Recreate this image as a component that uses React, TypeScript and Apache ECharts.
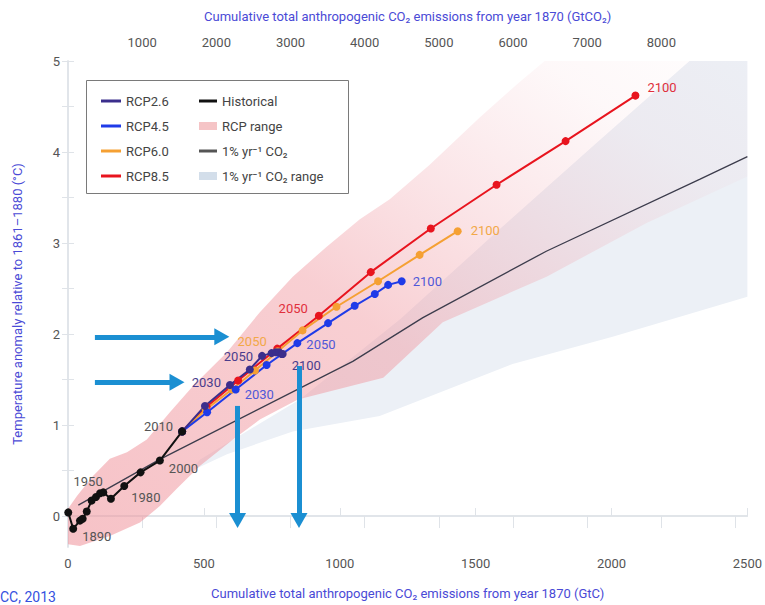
import React, { useEffect, useRef } from 'react';
import * as echarts from 'echarts';

// ---------- data ----------
const historicalYears = [1880, 1890, 1900, 1910, 1920, 1930, 1940, 1950, 1960, 1970, 1980, 1990, 2000, 2010];
const historicalX = [1, 19, 44, 54, 69, 87, 103, 118, 130, 158, 207, 267, 338, 420];
const historicalY = [0.04, -0.14, -0.05, -0.03, 0.05, 0.17, 0.21, 0.25, 0.26, 0.19, 0.33, 0.48, 0.61, 0.93];

const scenarioYears = [2010, 2020, 2030, 2040, 2050, 2060, 2070, 2080, 2090, 2100];
const rcp26X = [420, 504, 596, 669, 714, 749, 765, 777, 786, 790];
const rcp26Y = [0.93, 1.21, 1.44, 1.61, 1.76, 1.79, 1.80, 1.80, 1.78, 1.78];
const rcp45X = [420, 512, 617, 731, 844, 957, 1055, 1129, 1178, 1228];
const rcp45Y = [0.93, 1.14, 1.39, 1.66, 1.90, 2.12, 2.31, 2.44, 2.54, 2.58];
const rcp60X = [420, 507, 603, 688, 772, 863, 988, 1141, 1294, 1434];
const rcp60Y = [0.93, 1.17, 1.39, 1.60, 1.81, 2.04, 2.30, 2.58, 2.87, 3.13];
const rcp85X = [420, 510, 626, 770, 923, 1114, 1335, 1577, 1831, 2088];
const rcp85Y = [0.93, 1.20, 1.49, 1.84, 2.20, 2.68, 3.16, 3.64, 4.12, 4.62];

const onePctX = [38, 336, 1048, 1306, 1760, 2324, 2500];
const onePctY = [0.12, 0.62, 1.70, 2.18, 2.91, 3.70, 3.95];

const rcpRangeX = [0, 33, 92, 154, 217, 290, 375, 460, 585, 706, 827, 952, 1074, 1184, 1331, 1515, 1662, 1754, 2500, 2500, 2129, 1761, 1379, 1160, 846, 706, 607, 485, 400, 338, 265, 154, 44, 0];
const rcpRangeY = [0.08, 0.22, 0.44, 0.63, 0.70, 0.84, 1.14, 1.43, 1.80, 2.24, 2.63, 2.96, 3.26, 3.48, 3.86, 4.38, 4.77, 5.0, 5.0, 3.73, 3.22, 2.63, 2.13, 1.52, 1.28, 1.06, 0.84, 0.55, 0.30, 0.11, -0.07, -0.22, -0.33, -0.31];

const onePctRangeX = [449, 585, 827, 1147, 1636, 2004, 2500, 2500, 2287, 1956, 1588, 1221, 853, 485];
const onePctRangeY = [0.49, 0.68, 0.93, 1.10, 1.67, 1.97, 2.41, 5.0, 5.0, 4.13, 3.15, 2.16, 1.28, 0.62];

// annotation arrows in data units (GtC, °C)
const arrowStartX = [99, 99, 624, 850];
const arrowStartY = [1.97, 1.47, 1.21, 1.65];
const arrowEndX = [566, 401, 624, 850];
const arrowEndY = [1.97, 1.47, -0.05, -0.05];

const bottomTickLabels = [0, 500, 1000, 1500, 2000, 2500];
const topTickLabels = [1000, 2000, 3000, 4000, 5000, 6000, 7000, 8000];
const yTickLabels = [0, 1, 2, 3, 4, 5];
const yMinorTicks = [0, 0.5, 1, 1.5, 2, 2.5, 3, 3.5, 4, 4.5, 5];
const GTC_TO_GTCO2 = 3.664;

// ---------- styles ----------
const FONT = 'Roboto, "Noto Sans", sans-serif';
const TITLE = '#4a4ad6';
const AXIS = '#dfe3e8';

const C26 = '#3b2e8c';
const C45 = '#1f3be8';
const C60 = '#f5a033';
const C85 = '#e8141e';

type Lab = { position: string; offset: number[] };
const histLabels: Record<number, Lab> = {
  1890: { position: 'right', offset: [0, 8] },
  1950: { position: 'top', offset: [-12, 4] },
  1980: { position: 'right', offset: [-2, 11] },
  2000: { position: 'right', offset: [0, 8] },
  2010: { position: 'left', offset: [0, -5] },
};
const rcp26Labels: Record<number, Lab> = {
  2030: { position: 'left', offset: [0, -3] },
  2050: { position: 'left', offset: [0, 1] },
  2100: { position: 'right', offset: [0, 11] },
};
const rcp45Labels: Record<number, Lab> = {
  2030: { position: 'right', offset: [0, 5] },
  2050: { position: 'right', offset: [0, 1] },
  2100: { position: 'right', offset: [2, 0] },
};
const rcp60Labels: Record<number, Lab> = {
  2050: { position: 'left', offset: [-2, -10] },
  2100: { position: 'right', offset: [4, -1] },
};
const rcp85Labels: Record<number, Lab> = {
  2050: { position: 'left', offset: [-2, -7] },
  2100: { position: 'right', offset: [3, -8] },
};

function points(xs: number[], ys: number[], years: number[], labels: Record<number, Lab>, color: string) {
  return xs.map((x, i) => {
    const l = labels[years[i]];
    if (!l) return { value: [x, ys[i]] };
    return {
      value: [x, ys[i]],
      label: {
        show: true,
        position: l.position,
        offset: l.offset,
        color,
        fontSize: 13,
        fontFamily: FONT,
        formatter: String(years[i]),
      },
    };
  });
}

function polygonSeries(name: string, xs: number[], ys: number[], legendColor: string, fill: any, z: number) {
  return {
    type: 'custom',
    name,
    coordinateSystem: 'cartesian2d',
    xAxisIndex: 0,
    yAxisIndex: 0,
    silent: true,
    z,
    itemStyle: { color: legendColor },
    encode: { x: 0, y: 1 },
    data: xs.map((x, i) => [x, ys[i]]),
    renderItem: (params: any, api: any) => {
      if (params.dataIndex !== 0) return null;
      const pts = xs.map((x, i) => api.coord([x, ys[i]]));
      return { type: 'polygon', shape: { points: pts }, style: { fill } };
    },
  };
}

function lineSeries(name: string, xs: number[], ys: number[], years: number[], labels: Record<number, Lab>, color: string, labelColor: string, z: number) {
  return {
    type: 'line',
    name,
    z,
    symbol: 'circle',
    symbolSize: 8,
    lineStyle: { color, width: 2 },
    itemStyle: { color, borderWidth: 0 },
    data: points(xs, ys, years, labels, labelColor),
  };
}

export default function App() {
  const ref = useRef<HTMLDivElement>(null);

  useEffect(() => {
    if (!ref.current) return;
    const chart = echarts.init(ref.current, undefined, { renderer: 'svg' });

    const pinkFill = new echarts.graphic.LinearGradient(0, 1, 1, 0, [
      { offset: 0, color: 'rgba(240,150,158,0.58)' },
      { offset: 0.45, color: 'rgba(240,150,158,0.46)' },
      { offset: 0.7, color: 'rgba(240,160,170,0.22)' },
      { offset: 0.85, color: 'rgba(240,170,180,0.08)' },
      { offset: 1, color: 'rgba(240,170,180,0.02)' },
    ]);
    const blueFill = '#ecf0f6';

    const legendText = { fontSize: 13, color: '#444', fontFamily: FONT, lineHeight: 16 };

    const option: any = {
      animation: false,
      backgroundColor: '#fff',
      grid: { left: 68, right: 17, top: 61, bottom: 57 },
      xAxis: [
        {
          type: 'value',
          min: 0,
          max: 2500,
          interval: 500,
          position: 'bottom',
          axisLine: { show: true, lineStyle: { color: AXIS, width: 1.5 } },
          axisTick: { show: true, inside: true, length: 8, lineStyle: { color: AXIS } },
          axisLabel: {
            color: '#555', fontSize: 13, margin: 10, fontFamily: FONT,
            formatter: (v: number) => (bottomTickLabels.includes(v) ? String(v) : ''),
          },
          splitLine: { show: false },
          name: 'Cumulative total anthropogenic CO₂ emissions from year 1870 (GtC)',
          nameLocation: 'middle',
          nameGap: 40,
          nameTextStyle: { color: TITLE, fontSize: 13, fontFamily: FONT },
        },
        {
          type: 'value',
          min: 0,
          max: 2500 * GTC_TO_GTCO2,
          interval: 1000,
          position: 'top',
          axisLine: { show: true, lineStyle: { color: AXIS, width: 1.5 } },
          axisTick: { show: true, inside: true, length: 12, lineStyle: { color: AXIS } },
          axisLabel: {
            color: '#555', fontSize: 13, margin: 12, fontFamily: FONT,
            showMaxLabel: false,
            formatter: (v: number) => (topTickLabels.includes(v) ? String(v) : ''),
          },
          splitLine: { show: false },
          name: 'Cumulative total anthropogenic CO₂ emissions from year 1870 (GtCO₂)',
          nameLocation: 'middle',
          nameGap: 38,
          nameTextStyle: { color: TITLE, fontSize: 13, fontFamily: FONT },
        },
      ],
      yAxis: [
        {
          type: 'value',
          min: -0.34,
          max: 5,
          position: 'left',
          axisLine: { show: true, lineStyle: { color: AXIS, width: 1.5 } },
          axisTick: { show: true, inside: true, length: 6, lineStyle: { color: AXIS }, customValues: yMinorTicks },
          axisLabel: {
            color: '#555', fontSize: 13, margin: 8, fontFamily: FONT,
            customValues: yTickLabels,
            formatter: (v: number) => String(v),
          },
          splitLine: { show: false },
          name: 'Temperature anomaly relative to 1861–1880 (°C)',
          nameLocation: 'middle',
          nameGap: 44,
          nameTextStyle: { color: TITLE, fontSize: 13, fontFamily: FONT },
        },
        {
          type: 'value',
          min: -0.34,
          max: 5,
          position: 'right',
          axisLine: { show: true, lineStyle: { color: AXIS, width: 1.5 } },
          axisTick: { show: true, inside: true, length: 6, lineStyle: { color: AXIS }, customValues: yMinorTicks },
          axisLabel: { show: false },
          splitLine: { show: false },
        },
      ],
      legend: [
        {
          data: ['RCP2.6', 'RCP4.5', 'RCP6.0', 'RCP8.5'].map((n) => ({ name: n, icon: 'rect' })),
          orient: 'vertical', left: 101, top: 93, itemWidth: 20, itemHeight: 3, itemGap: 9, padding: 0,
          selectedMode: false, textStyle: legendText, itemStyle: { borderWidth: 0 },
        },
        {
          data: ['Historical', '1% yr⁻¹ CO₂'].map((n) => ({ name: n, icon: 'rect' })),
          orient: 'vertical', left: 199, top: 93, itemWidth: 18, itemHeight: 3, itemGap: 34, padding: 0,
          selectedMode: false, textStyle: legendText, itemStyle: { borderWidth: 0 },
        },
        {
          data: ['RCP range', '1% yr⁻¹ CO₂ range'].map((n) => ({ name: n, icon: 'rect' })),
          orient: 'vertical', left: 199, top: 118, itemWidth: 18, itemHeight: 8, itemGap: 34, padding: 0,
          selectedMode: false, textStyle: legendText, itemStyle: { borderWidth: 0 },
        },
      ],
      graphic: [
        {
          type: 'rect', left: 86, top: 80, z: 3,
          shape: { width: 262, height: 113 },
          style: { fill: '#fff', stroke: '#7a7a7a', lineWidth: 1 },
        },
        {
          type: 'text', left: 0, top: 590, z: 3,
          style: { text: 'CC, 2013', fill: '#3450e0', font: `14px ${FONT}` },
        },
      ],
      series: [
        polygonSeries('1% yr⁻¹ CO₂ range', onePctRangeX, onePctRangeY, '#d3deea', blueFill, 1),
        polygonSeries('RCP range', rcpRangeX, rcpRangeY, '#f5c4c6', pinkFill, 1),
        {
          type: 'line',
          name: '1% yr⁻¹ CO₂',
          z: 2,
          symbol: 'none',
          lineStyle: { color: '#3c3c4c', width: 1.3 },
          itemStyle: { color: '#555' },
          data: onePctX.map((x, i) => [x, onePctY[i]]),
          markLine: {
            silent: true,
            symbol: ['none', 'triangle'],
            symbolSize: [17, 15],
            label: { show: false },
            lineStyle: { color: '#1b8fd2', width: 5, type: 'solid', opacity: 1 },
            itemStyle: { color: '#1b8fd2' },
            data: arrowStartX.map((x, i) => [
              { coord: [x, arrowStartY[i]] },
              { coord: [arrowEndX[i], arrowEndY[i]] },
            ]),
          },
        },
        lineSeries('RCP8.5', rcp85X, rcp85Y, scenarioYears, rcp85Labels, C85, '#e0303c', 3),
        lineSeries('RCP6.0', rcp60X, rcp60Y, scenarioYears, rcp60Labels, C60, '#f2a848', 3),
        lineSeries('RCP4.5', rcp45X, rcp45Y, scenarioYears, rcp45Labels, C45, '#5058d8', 3),
        lineSeries('RCP2.6', rcp26X, rcp26Y, scenarioYears, rcp26Labels, C26, '#4a3c8c', 3),
        lineSeries('Historical', historicalX, historicalY, historicalYears, histLabels, '#111111', '#555555', 4),
      ],
    };

    chart.setOption(option);
    return () => chart.dispose();
  }, []);

  return (
    <div
      ref={ref}
      style={{ position: 'absolute', left: 0, top: 0, width: 765, height: 605, background: '#fff' }}
    />
  );
}
